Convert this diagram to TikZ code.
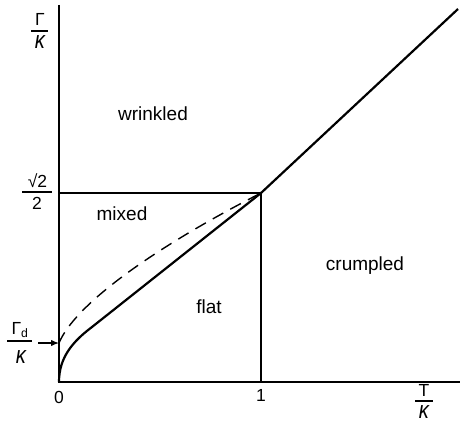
\documentclass[tikz,border=0pt]{standalone}
\usepackage{fontspec}
\setmainfont{Liberation Sans}
\usetikzlibrary{arrows.meta}
\tikzset{
  axis/.style={line width=1.5pt},
  thin line/.style={line width=1.3pt},
  solidcurve/.style={line width=2.2pt},
  dashcurve/.style={line width=1.4pt, dash pattern=on 12pt off 8pt},
  barline/.style={line width=1.1pt},
  lab/.style={font=\fontsize{17.5}{20}\selectfont, inner sep=0pt},
  region/.style={font=\fontsize{19}{22}\selectfont, inner sep=0pt},
}
\newcommand{\kap}{\textit{\scalebox{1.15}[1.4]{κ}}}
\begin{document}
\begin{tikzpicture}[x=1pt,y=-1pt]
\useasboundingbox (0,0) rectangle (460,425);
\coordinate (O) at (59,382);
\coordinate (ytop) at (59,5);
\coordinate (xend) at (460,382);
\coordinate (P) at (261,193);
\coordinate (Py) at (59,193);
\coordinate (Px) at (261,382);
\coordinate (diagend) at (458,9);
\coordinate (Gd) at (59,343);
\draw[axis] (ytop) -- (O) -- (xend);
\draw[thin line] (Py) -- (P) -- (Px);
\draw[solidcurve] (O) .. controls (59,358) and (72,342) .. (92,327) -- (P) -- (diagend);
\draw[dashcurve] (Gd) .. controls (75,305) and (150,250) .. (P);
\node[region] (wr) at (153,114) {wrinkled};
\node[region] (mx) at (122,214) {mixed};
\node[region] (fl) at (209,307) {flat};
\node[region] (cr) at (365,266) {crumpled};
\node[lab] (zero) at (59,397) {0};
\node[lab] (one) at (261,395) {1};
% Gamma / kappa
\node[lab] (gkn) at (40,19) {Γ};
\coordinate (gkb1) at (31,31); \coordinate (gkb2) at (48,31);
\draw[barline] (gkb1) -- (gkb2);
\node[lab] (gkd) at (40,42) {\kap};
% sqrt2 / 2
\node[lab] (s2n) at (37.5,181) {√2};
\coordinate (s2b1) at (22,192); \coordinate (s2b2) at (52,192);
\draw[barline] (s2b1) -- (s2b2);
\node[lab] (s2d) at (37,203) {2};
% Gamma_d / kappa
\node[lab] (gdn) at (20,330) {Γ\textsubscript{d}};
\coordinate (gdb1) at (7,341); \coordinate (gdb2) at (32,341);
\draw[barline] (gdb1) -- (gdb2);
\node[lab] (gdd) at (21,357) {\kap};
% T / kappa
\node[lab] (tkn) at (424,390.5) {T};
\coordinate (tkb1) at (415,401) ; \coordinate (tkb2) at (433,401);
\draw[barline] (tkb1) -- (tkb2);
\node[lab] (tkd) at (424,412.5) {\kap};
\coordinate (arrs) at (38,343);
\draw[line width=1.3pt,-{Latex[length=8pt,width=6.5pt]}] (arrs) -- (Gd);
\end{tikzpicture}
\end{document}
